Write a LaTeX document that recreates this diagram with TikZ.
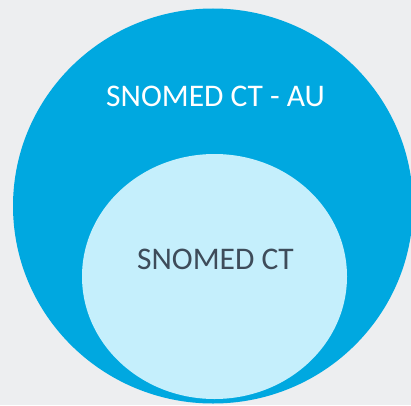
\documentclass[tikz,border=0pt]{standalone}
\usepackage{fontspec}
\setmainfont{Carlito}
\usetikzlibrary{shapes.geometric}
\definecolor{bgGray}{RGB}{237,238,240}
\definecolor{auBlue}{RGB}{0,168,224}
\definecolor{ctBlue}{RGB}{197,239,252}
\definecolor{ctText}{RGB}{62,76,90}
\begin{document}
\begin{tikzpicture}[x=1pt,y=1pt]
\fill[bgGray] (0,0) rectangle (411,405);
\useasboundingbox (0,0) rectangle (411,405);
\clip (0,0) rectangle (411,405);
\draw (213,199)node(au)[ellipse,inner sep=0pt,minimum width=400pt,minimum height=395pt,fill=auBlue]{};
\draw (214.5,128.5)node(ct)[ellipse,inner sep=0pt,minimum width=265pt,minimum height=245pt,fill=ctBlue]{};
\draw (215.5,299)node(aulabel)[anchor=base,inner sep=0pt,text=white,font=\fontsize{31.5}{36}\selectfont]{SNOMED CT - AU};
\draw (215.5,136)node(ctlabel)[anchor=base,inner sep=0pt,text=ctText,font=\fontsize{31.5}{36}\selectfont]{SNOMED CT};
\end{tikzpicture}
\end{document}
